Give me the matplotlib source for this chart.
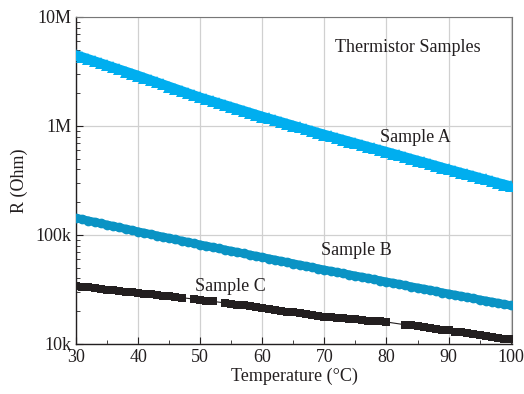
import matplotlib
matplotlib.use("Agg")
import matplotlib.pyplot as plt
from matplotlib.ticker import MultipleLocator, LogLocator, NullFormatter

plt.rcParams['font.family'] = ['Liberation Serif', 'DejaVu Serif']

# temperature (deg C)
temp = list(range(30, 101))

# resistance in kOhm
sample_a = [4480, 4288, 4105, 3929, 3761, 3600, 3446, 3298, 3157, 3022,
            2893, 2763, 2638, 2520, 2406, 2298, 2195, 2096, 2002, 1912,
            1826, 1754, 1685, 1618, 1554, 1493, 1434, 1377, 1323, 1270,
            1220, 1174, 1130, 1088, 1047, 1008, 970, 934, 899, 865,
            833, 803, 774, 747, 720, 694, 669, 645, 622, 600,
            579, 558, 538, 518, 499, 481, 464, 447, 431, 415,
            400, 386, 372, 359, 347, 334, 323, 311, 300, 290, 280]
sample_b = [143.2, 139.1, 135.2, 131.3, 127.6, 124.0, 120.5, 117.1, 113.7, 110.5,
            107.4, 104.4, 101.6, 98.8, 96.1, 93.5, 90.9, 88.4, 86.0, 83.7,
            81.4, 79.3, 77.2, 75.2, 73.2, 71.3, 69.4, 67.6, 65.8, 64.1,
            62.4, 60.8, 59.2, 57.6, 56.1, 54.7, 53.2, 51.8, 50.5, 49.2,
            47.9, 46.7, 45.5, 44.4, 43.3, 42.2, 41.2, 40.1, 39.1, 38.2,
            37.2, 36.3, 35.4, 34.5, 33.6, 32.8, 32.0, 31.2, 30.4, 29.6,
            28.9, 28.2, 27.5, 26.8, 26.2, 25.5, 24.9, 24.3, 23.7, 23.1, 22.6]
temp_c = [30, 31, 32, 33, 34, 35, 36, 37, 38, 39, 40, 41, 42, 43, 44, 45, 46, 47,
          49, 50, 51, 52, 54, 55, 56, 57, 58, 59, 60, 61, 62, 63, 64, 65, 66, 67,
          68, 69, 70, 71, 72, 73, 74, 75, 76, 77, 78, 79, 80, 83, 84, 85, 86, 87,
          88, 89, 90, 91, 92, 93, 94, 95, 96, 97, 98, 99, 100]
sample_c = [34.0, 33.5, 33.0, 32.5, 32.0, 31.5, 31.0, 30.5, 30.0, 29.7, 29.4, 29.0,
            28.6, 28.2, 27.8, 27.4, 27.0, 26.6, 25.8, 25.4, 25.0, 24.6, 23.8, 23.4,
            23.0, 22.6, 22.2, 21.8, 21.4, 21.0, 20.6, 20.2, 19.8, 19.5, 19.1, 18.8,
            18.4, 18.1, 17.8, 17.6, 17.4, 17.2, 17.0, 16.8, 16.6, 16.4, 16.2, 16.1,
            15.9, 15.0, 14.8, 14.5, 14.2, 14.0, 13.8, 13.5, 13.3, 13.0, 12.8, 12.5,
            12.3, 12.0, 11.8, 11.6, 11.4, 11.2, 11.0]

y_ticks = [1e4, 1e5, 1e6, 1e7]
y_labels = ['10k', '100k', '1M', '10M']

col_a = '#00AEEF'
col_b = '#0A93C4'
col_c = '#231F20'

fig = plt.figure(figsize=(5.24, 3.94), dpi=100)
ax = fig.add_axes([0.145, 0.127, 0.832, 0.830])

ra = [v * 1e3 for v in sample_a]
rb = [v * 1e3 for v in sample_b]
rc = [v * 1e3 for v in sample_c]

# dense measurement points merge into a solid band in the original
ax.plot(temp, ra, '-', linewidth=7, color=col_a, solid_capstyle='butt', zorder=3)
ax.plot(temp, ra, linestyle='none', marker='^', markersize=8, color=col_a,
        markeredgewidth=0, zorder=3)
ax.plot(temp, rb, '-', linewidth=6, color=col_b, solid_capstyle='butt', zorder=3)
ax.plot(temp, rb, linestyle='none', marker='o', markersize=7, color=col_b,
        markeredgewidth=0, zorder=3)
ax.plot(temp_c, rc, linestyle='-', linewidth=0.8, marker='s', markersize=6,
        color=col_c, markeredgewidth=0, zorder=3)

ax.set_yscale('log')
ax.set_xlim(30, 100.2)
ax.set_ylim(1e4, 1e7)
ax.set_yticks(y_ticks)
ax.set_yticklabels(y_labels)
ax.yaxis.set_minor_locator(LogLocator(base=10, subs=range(2, 10)))
ax.yaxis.set_minor_formatter(NullFormatter())
ax.xaxis.set_major_locator(MultipleLocator(10))
ax.xaxis.set_minor_locator(MultipleLocator(5))

ax.grid(True, which='major', color='#d0d0d0', linewidth=0.9)
ax.set_axisbelow(True)
ax.tick_params(which='both', direction='in', top=False, right=False,
               labelsize=13, colors='#231F20')
ax.tick_params(which='major', length=5)
ax.tick_params(which='minor', length=3)
for s in ['left', 'bottom']:
    ax.spines[s].set_color('#231F20')
    ax.spines[s].set_linewidth(1.0)
for s in ['top', 'right']:
    ax.spines[s].set_color('#777777')
    ax.spines[s].set_linewidth(0.8)

ax.set_xlabel('Temperature (°C)', fontsize=13, color='#231F20', labelpad=1)
ax.set_ylabel('R (Ohm)', fontsize=13, color='#231F20', labelpad=5)

ax.text(83.5, 5.2e6, 'Thermistor Samples', fontsize=13, ha='center', va='center', color='#231F20')
ax.text(84.6, 7.9e5, 'Sample A', fontsize=13, ha='center', va='center', color='#231F20')
ax.text(75.2, 7.2e4, 'Sample B', fontsize=13, ha='center', va='center', color='#231F20')
ax.text(54.8, 3.35e4, 'Sample C', fontsize=13, ha='center', va='center', color='#231F20')

fig.savefig('out.png', dpi=100)
